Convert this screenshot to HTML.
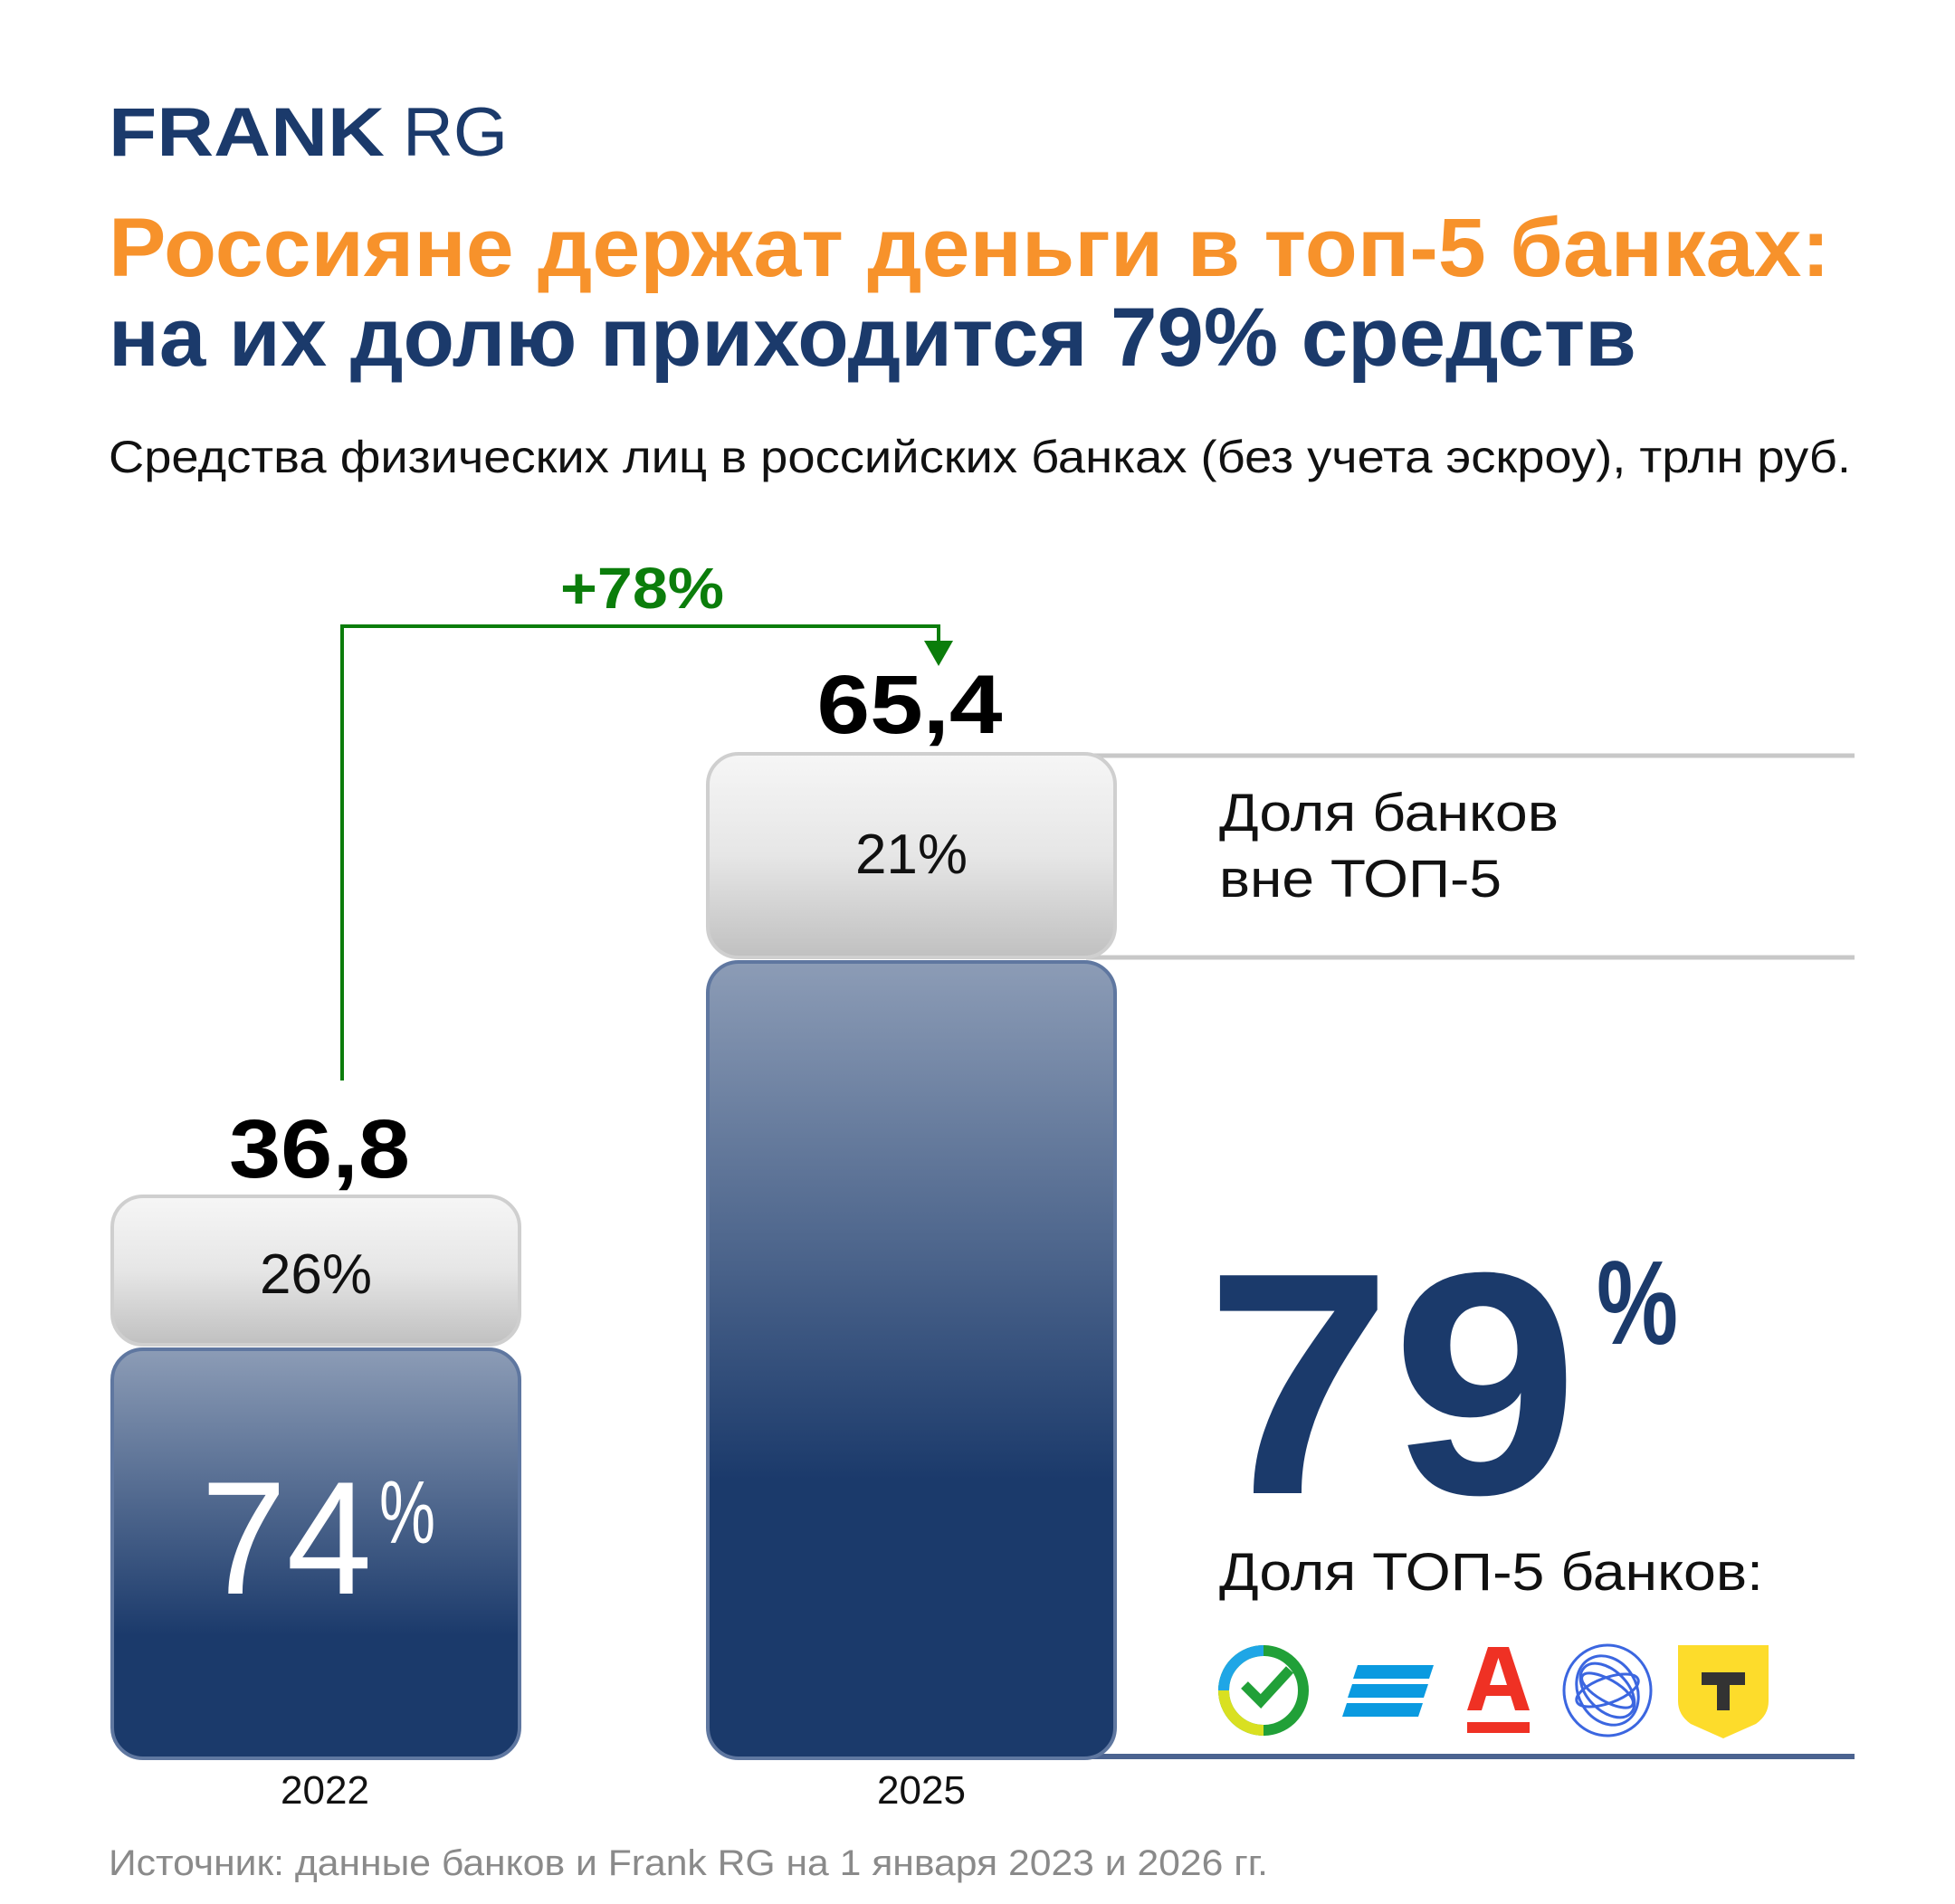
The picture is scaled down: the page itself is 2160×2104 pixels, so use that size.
<!DOCTYPE html>
<html><head><meta charset="utf-8"><style>html,body{margin:0;padding:0;background:#fff}svg{display:block}</style></head>
<body>
<svg width="2160" height="2104" viewBox="0 0 2160 2104" xmlns="http://www.w3.org/2000/svg" font-family="Liberation Sans, sans-serif">
<defs>
<linearGradient id="gb" x1="0" y1="0" x2="0" y2="1"><stop offset="0" stop-color="#8c9cb6"/><stop offset="0.7" stop-color="#1b3a6b"/><stop offset="1" stop-color="#1b3a6b"/></linearGradient>
<linearGradient id="gb2" x1="0" y1="0" x2="0" y2="1"><stop offset="0" stop-color="#8c9cb6"/><stop offset="0.65" stop-color="#1b3a6b"/><stop offset="1" stop-color="#1b3a6b"/></linearGradient>
<linearGradient id="gg" x1="0" y1="0" x2="0" y2="1"><stop offset="0" stop-color="#f6f6f6"/><stop offset="0.5" stop-color="#e6e6e6"/><stop offset="1" stop-color="#c0c0c0"/></linearGradient>
</defs>
<rect width="2160" height="2104" fill="#fff"/>
<text x="120" y="172" font-size="76" font-weight="bold" fill="#1b3a6b" textLength="305" lengthAdjust="spacingAndGlyphs">FRANK</text>
<text x="445" y="172" font-size="76" fill="#1b3a6b" textLength="116" lengthAdjust="spacingAndGlyphs">RG</text>
<text x="120" y="305" font-size="92" font-weight="bold" fill="#f7922b" textLength="1902" lengthAdjust="spacingAndGlyphs">Россияне держат деньги в топ-5 банках:</text>
<text x="120" y="404" font-size="92" font-weight="bold" fill="#1b3a6b" textLength="1688" lengthAdjust="spacingAndGlyphs">на их долю приходится 79% средств</text>
<text x="120" y="522" font-size="50" fill="#111" textLength="1925" lengthAdjust="spacingAndGlyphs">Средства физических лиц в российских банках (без учета эскроу), трлн руб.</text>
<text x="619" y="672" font-size="64" font-weight="bold" fill="#0b7d0b" textLength="181" lengthAdjust="spacingAndGlyphs">+78%</text>
<polyline points="378,1194 378,692 1037,692 1037,712" fill="none" stroke="#0b7d0b" stroke-width="4"/>
<polygon points="1021,708 1053,708 1037,736" fill="#0b7d0b"/>
<line x1="1200" y1="835" x2="2049" y2="835" stroke="#c8c8c8" stroke-width="5"/>
<line x1="1200" y1="1058" x2="2049" y2="1058" stroke="#c8c8c8" stroke-width="5"/>
<line x1="1200" y1="1941" x2="2049" y2="1941" stroke="#4b6390" stroke-width="6"/>
<text x="1005" y="810" font-size="92" font-weight="bold" fill="#000" text-anchor="middle" textLength="205" lengthAdjust="spacingAndGlyphs">65,4</text>
<rect x="782" y="833" width="450" height="225" rx="34" fill="url(#gg)" stroke="#cfcfcf" stroke-width="4"/>
<text x="1007" y="965" font-size="62" fill="#111" text-anchor="middle">21%</text>
<rect x="782" y="1063" width="450" height="880" rx="34" fill="url(#gb2)" stroke="#5f77a0" stroke-width="4"/>
<text x="1347" y="918" font-size="58" fill="#111" textLength="375" lengthAdjust="spacingAndGlyphs">Доля банков</text>
<text x="1347" y="991" font-size="58" fill="#111" textLength="312" lengthAdjust="spacingAndGlyphs">вне ТОП-5</text>
<text x="353" y="1301" font-size="92" font-weight="bold" fill="#000" text-anchor="middle" textLength="200" lengthAdjust="spacingAndGlyphs">36,8</text>
<rect x="124" y="1322" width="450" height="164" rx="34" fill="url(#gg)" stroke="#cfcfcf" stroke-width="4"/>
<text x="349" y="1429" font-size="62" fill="#111" text-anchor="middle">26%</text>
<rect x="124" y="1491" width="450" height="452" rx="34" fill="url(#gb)" stroke="#5f77a0" stroke-width="4"/>
<text x="222" y="1761" font-size="178" fill="#fff" textLength="189" lengthAdjust="spacingAndGlyphs">74</text>
<text x="419" y="1705" font-size="98" fill="#fff" textLength="62" lengthAdjust="spacingAndGlyphs">%</text>
<text x="1332" y="1650" font-size="350" font-weight="bold" fill="#1b3a6b" textLength="412" lengthAdjust="spacingAndGlyphs">79</text>
<text x="1764" y="1485" font-size="132" font-weight="bold" fill="#1b3a6b" textLength="90" lengthAdjust="spacingAndGlyphs">%</text>
<text x="1347" y="1757" font-size="58" fill="#111" textLength="601" lengthAdjust="spacingAndGlyphs">Доля ТОП-5 банков:</text>
<g>
<circle cx="1396" cy="1868" r="44" fill="none" stroke="#21a038" stroke-width="12"/>
<path d="M1396,1824 A44,44 0 0,0 1352,1868" fill="none" stroke="#1fa6e6" stroke-width="12"/>
<path d="M1352,1868 A44,44 0 0,0 1396,1912" fill="none" stroke="#d9e021" stroke-width="12"/>
<polyline points="1375,1862 1393,1880 1425,1845" fill="none" stroke="#21a038" stroke-width="11"/>
</g>
<g fill="#0a9ae0">
<polygon points="1500,1840 1584,1840 1579,1855 1495,1855"/>
<polygon points="1494,1861 1578,1861 1573,1876 1489,1876"/>
<polygon points="1488,1882 1572,1882 1567,1897 1483,1897"/>
</g>
<g fill="#ef3124">
<path d="M1644,1820 L1667,1820 L1690,1890 L1674,1890 L1669,1874 L1642,1874 L1637,1890 L1621,1890 Z M1646,1862 L1665,1862 L1655.5,1832 Z"/>
<rect x="1621" y="1903" width="69" height="12"/>
</g>
<g fill="none" stroke="#3b66e0" stroke-width="3">
<ellipse cx="1776" cy="1868" rx="48" ry="50"/>
<ellipse cx="1776" cy="1868" rx="32" ry="40" transform="rotate(-30 1776 1868)"/>
<ellipse cx="1776" cy="1868" rx="22" ry="36" transform="rotate(-45 1776 1868)"/>
<ellipse cx="1776" cy="1868" rx="12" ry="32" transform="rotate(-60 1776 1868)"/>
<ellipse cx="1776" cy="1868" rx="36" ry="14" transform="rotate(-20 1776 1868)"/>
</g>
<path d="M1854,1818 L1954,1818 L1954,1880 Q1954,1895 1940,1905 L1904,1921 L1868,1905 Q1854,1895 1854,1880 Z" fill="#fddc2b"/>
<path d="M1880,1848 L1928,1848 L1928,1862 L1911,1862 L1911,1890 L1897,1890 L1897,1862 L1880,1862 Z" fill="#333"/>
<text x="359" y="1993" font-size="44" fill="#111" text-anchor="middle">2022</text>
<text x="1018" y="1993" font-size="44" fill="#111" text-anchor="middle">2025</text>
<text x="120" y="2072" font-size="40" fill="#8a8a8a" textLength="1281" lengthAdjust="spacingAndGlyphs">Источник: данные банков и Frank RG на 1 января 2023 и 2026 гг.</text>
</svg>
</body></html>
